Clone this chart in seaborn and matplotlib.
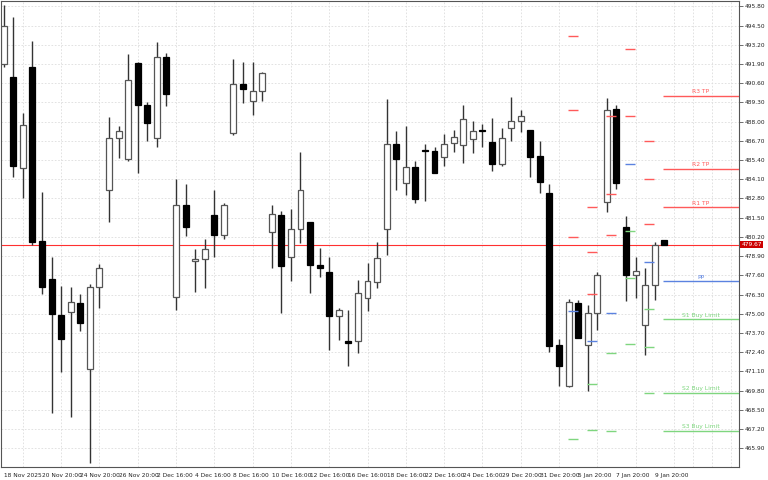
import matplotlib
matplotlib.use("Agg")
import matplotlib.pyplot as plt
import seaborn as sns
import numpy as np
import pandas as pd

# OHLC values
opens = [491.91, 491.03, 484.89, 491.70, 479.89, 477.33, 474.90, 475.10, 475.71, 471.25,
         476.79, 483.40, 486.91, 485.49, 491.97, 489.14, 486.91, 492.38, 476.11, 482.39,
         478.54, 478.68, 481.65, 480.30, 487.25, 490.56, 489.41, 490.08, 480.50, 481.71,
         478.81, 480.70, 481.24, 478.27, 477.80, 474.83, 473.14, 473.14, 476.04, 477.12,
         480.70, 486.51, 483.87, 484.95, 486.03, 486.03, 485.63, 486.57, 486.44, 486.84,
         487.38, 486.64, 485.16, 487.59, 488.06, 487.45, 485.70, 483.20, 472.87, 470.10,
         475.71, 472.87, 475.03, 482.59, 488.87, 480.84, 477.60, 474.22, 476.92, 479.96]
highs = [495.90, 495.08, 488.60, 493.46, 483.27, 478.81, 476.85, 476.79, 476.31, 476.99,
         478.34, 488.33, 487.72, 492.58, 492.04, 489.34, 493.39, 492.65, 484.14, 483.81,
         479.35, 480.03, 483.40, 482.46, 492.24, 492.04, 492.04, 491.37, 482.39, 481.98,
         482.12, 485.97, 481.24, 479.42, 478.81, 475.37, 475.23, 477.26, 478.41, 479.82,
         489.54, 487.38, 487.72, 485.36, 486.51, 486.30, 487.18, 487.45, 489.14, 488.06,
         487.86, 488.26, 487.59, 489.68, 488.80, 487.45, 486.71, 483.81, 473.28, 475.98,
         475.91, 475.57, 477.80, 489.61, 489.14, 481.58, 478.81, 478.07, 479.82, 479.96]
lows = [491.70, 484.28, 482.86, 479.62, 476.31, 468.28, 471.05, 468.01, 473.82, 464.91,
        475.37, 481.24, 485.56, 485.36, 484.55, 486.71, 486.30, 489.07, 475.23, 480.23,
        476.45, 476.72, 478.81, 480.03, 487.11, 489.27, 488.46, 489.41, 478.07, 475.03,
        477.19, 479.76, 476.38, 477.46, 472.53, 473.21, 471.45, 472.33, 475.17, 476.72,
        478.95, 483.40, 483.06, 482.46, 482.66, 484.55, 485.02, 485.97, 485.22, 485.90,
        486.30, 484.68, 485.02, 486.71, 487.32, 484.28, 483.20, 472.40, 470.10, 470.03,
        473.34, 469.77, 473.88, 481.85, 483.47, 475.84, 476.04, 472.20, 475.91, 479.67]
closes = [494.47, 485.02, 487.79, 479.82, 476.79, 474.96, 473.28, 475.77, 474.36, 476.79,
          478.07, 486.91, 487.38, 490.83, 489.14, 487.92, 492.38, 489.88, 482.39, 480.84,
          478.68, 479.35, 480.30, 482.39, 490.56, 490.22, 490.08, 491.30, 481.78, 478.20,
          480.70, 483.40, 478.27, 478.07, 474.83, 475.23, 473.01, 476.38, 477.19, 478.74,
          486.51, 485.49, 484.95, 482.79, 486.00, 484.55, 486.51, 486.98, 488.19, 487.38,
          487.35, 485.16, 486.91, 488.06, 488.40, 485.63, 483.94, 472.80, 471.45, 475.77,
          473.34, 475.03, 477.60, 488.80, 483.87, 477.60, 477.87, 476.92, 479.62, 479.67]

xlabels = ["18 Nov 2025", "20 Nov 20:00", "24 Nov 20:00", "26 Nov 20:00", "2 Dec 16:00",
           "4 Dec 16:00", "8 Dec 16:00", "10 Dec 16:00", "12 Dec 16:00", "16 Dec 16:00",
           "18 Dec 16:00", "22 Dec 16:00", "24 Dec 16:00", "29 Dec 20:00", "31 Dec 20:00",
           "5 Jan 20:00", "7 Jan 20:00", "9 Jan 20:00"]

# daily pivot levels: start candle, price, kind
lvl_start = [59, 59, 59, 59, 59,
             61, 61, 61, 61, 61, 61,
             63, 63, 63, 63, 63, 63,
             65, 65, 65, 65, 65, 65,
             67, 67, 67, 67, 67, 67, 67]
lvl_price = [493.80, 488.80, 480.16, 475.16, 466.53,
             482.25, 479.15, 476.31, 473.14, 470.24, 467.13,
             488.40, 483.13, 480.36, 475.03, 472.33, 467.07,
             492.92, 488.40, 485.16, 480.63, 477.39, 472.94,
             486.71, 484.14, 481.04, 478.47, 475.30, 472.74, 469.63]
lvl_kind = ["r", "r", "r", "p", "s",
            "r", "r", "r", "p", "s", "s",
            "r", "r", "r", "p", "s", "s",
            "r", "r", "p", "s", "s", "s",
            "r", "r", "r", "p", "s", "s", "s"]

cur_names = ["R3 TP", "R2 TP", "R1 TP", "PP", "S1 Buy Limit", "S2 Buy Limit", "S3 Buy Limit"]
cur_prices = [489.75, 484.82, 482.19, 477.19, 474.62, 469.63, 467.07]
cur_kind = ["r", "r", "r", "p", "s", "s", "s"]
last_price = 479.67

colors = {"r": "#ff5a5a", "p": "#5b82e0", "s": "#7fd67f"}

df = pd.DataFrame({"open": opens, "high": highs, "low": lows, "close": closes})
df["idx"] = np.arange(len(df))
df["up"] = df["close"] >= df["open"]

sns.set_style("white")
plt.rcParams['font.family'] = ['DejaVu Sans']

fig = plt.figure(figsize=(7.68, 4.80), dpi=100)
ax = fig.add_axes([0.0013, 1 - 467 / 480, 739 / 768 - 0.0013, 466 / 480])

# wicks
ax.vlines(df["idx"], df["low"], df["high"], color="#333333", lw=1, zorder=2)
# bodies
w = 0.62
bottoms = np.minimum(df["open"], df["close"])
heights = np.maximum(np.abs(df["close"] - df["open"]), 0.05)
ax.bar(df["idx"], heights, bottom=bottoms, width=w,
       color=np.where(df["up"], "white", "black"),
       edgecolor=np.where(df["up"], "#555555", "black"), lw=0.9, zorder=3)

# past pivot dashes
for s, p, k in zip(lvl_start, lvl_price, lvl_kind):
    ax.hlines(p, s - 0.1, s + 0.95, color=colors[k], lw=1.0, zorder=4)

# current pivot lines
xr = 76.8
for n, p, k in zip(cur_names, cur_prices, cur_kind):
    ax.hlines(p, 68.9, xr, color=colors[k], lw=1.0, zorder=4)
    ax.text(72.8, p + 0.12, n, color=colors[k], fontsize=4.3, ha="center", va="bottom")

ax.axhline(last_price, color="#ff3030", lw=0.8, zorder=1)

ax.set_xlim(-0.28, xr)
ax.set_ylim(464.63, 496.16)

yt = np.round(np.arange(465.90, 495.81, 1.30), 2)
ax.yaxis.tick_right()
ax.set_yticks(yt)
ax.set_yticklabels([f"{v:.2f}" for v in yt], fontsize=4.2, color="#222222")
ax.set_xticks(np.arange(0, 69, 4))
ax.set_xticklabels(xlabels, fontsize=4.2, ha="left", color="#222222")
ax.tick_params(axis="both", length=3, width=0.6, pad=1.2, color="#555555", direction="out")
ax.set_xticks(np.arange(0, 77, 2), minor=True)
ax.grid(True, which="minor", axis="x", color="#dddddd", ls=(0, (2, 2)), lw=0.6)
ax.grid(True, which="major", axis="y", color="#dddddd", ls=(0, (2, 2)), lw=0.6)
ax.tick_params(axis="x", which="minor", length=0)
for sp in ax.spines.values():
    sp.set_color("#555555")
    sp.set_linewidth(0.8)

ax.text(1.003, last_price, f"{last_price:.2f}", transform=ax.get_yaxis_transform(),
        fontsize=4.2, color="white", va="center", ha="left",
        bbox=dict(boxstyle="square,pad=0.15", fc="#cc0000", ec="none"))

fig.savefig("out.png", dpi=100)
